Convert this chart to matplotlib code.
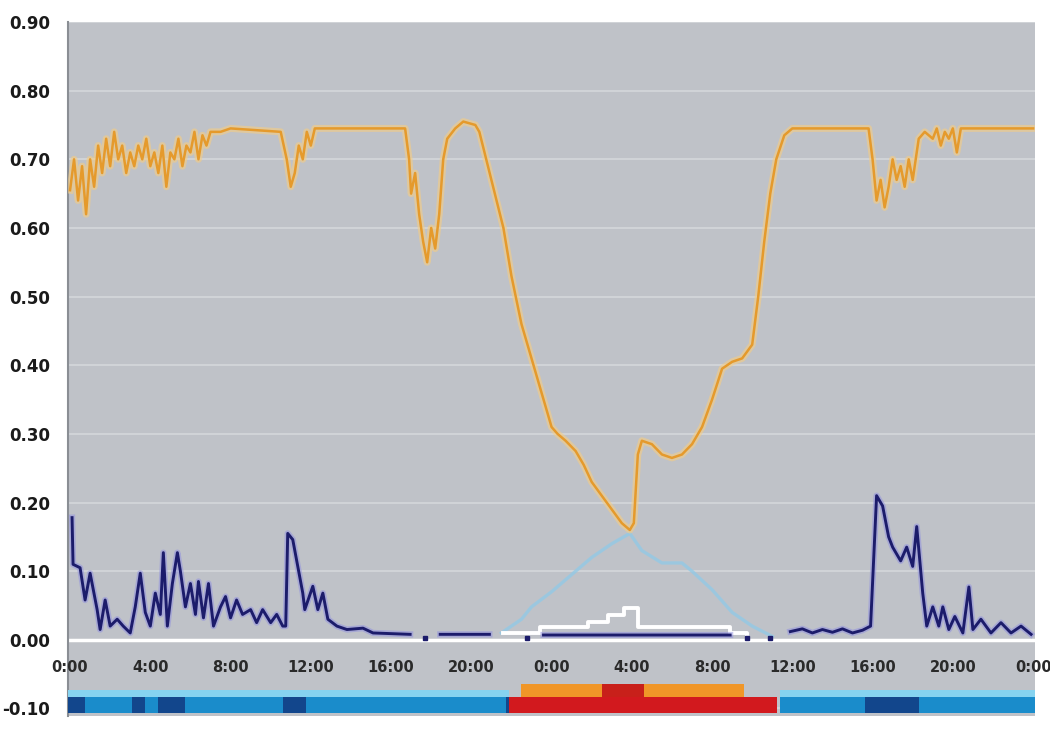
import matplotlib
matplotlib.use('Agg')
import matplotlib.pyplot as plt
import numpy as np

nan = float('nan')

# hours since midnight of day 1 (two days shown)
orange_h = [0.0, 0.2, 0.4, 0.6, 0.8, 1.0, 1.2, 1.4, 1.6, 1.8, 2.0, 2.2, 2.4, 2.6, 2.8,
            3.0, 3.2, 3.4, 3.6, 3.8, 4.0, 4.2, 4.4, 4.6, 4.8, 5.0, 5.2, 5.4, 5.6, 5.8,
            6.0, 6.2, 6.4, 6.6, 6.8, 7.0, 7.5, 8.0, 10.5, 10.8, 11.0, 11.2, 11.4, 11.6,
            11.8, 12.0, 12.2, 16.7, 16.9, 17.0, 17.2, 17.4, 17.6, 17.8, 18.0, 18.2,
            18.4, 18.6, 18.8, 19.2, 19.6, 20.2, 20.4, 21.0, 21.6, 22.0, 22.5, 23.0,
            23.5, 24.0, 24.3, 24.7, 25.2, 25.6, 26.0, 26.5, 27.0, 27.5, 27.9, 28.1,
            28.3, 28.5, 29.0, 29.5, 30.0, 30.5, 31.0, 31.5, 32.0, 32.5, 33.0, 33.5,
            34.0, 34.3, 34.6, 34.9, 35.2, 35.6, 36.0, 39.8, 40.0, 40.2, 40.4, 40.6,
            40.8, 41.0, 41.2, 41.4, 41.6, 41.8, 42.0, 42.3, 42.6, 43.0, 43.2, 43.4,
            43.6, 43.8, 44.0, 44.2, 44.4, 48.0]
orange_v = [0.655, 0.70, 0.64, 0.69, 0.62, 0.70, 0.66, 0.72, 0.68, 0.73, 0.69, 0.74,
            0.70, 0.72, 0.68, 0.71, 0.69, 0.72, 0.70, 0.73, 0.69, 0.71, 0.68, 0.72,
            0.66, 0.71, 0.70, 0.73, 0.69, 0.72, 0.71, 0.74, 0.70, 0.735, 0.72, 0.74,
            0.74, 0.745, 0.74, 0.70, 0.66, 0.68, 0.72, 0.70, 0.74, 0.72, 0.745, 0.745,
            0.70, 0.65, 0.68, 0.62, 0.58, 0.55, 0.60, 0.57, 0.62, 0.70, 0.73, 0.745,
            0.755, 0.75, 0.74, 0.67, 0.60, 0.53, 0.46, 0.41, 0.36, 0.31, 0.30, 0.29,
            0.275, 0.255, 0.23, 0.21, 0.19, 0.17, 0.16, 0.17, 0.27, 0.29, 0.285, 0.27,
            0.265, 0.27, 0.285, 0.31, 0.35, 0.395, 0.405, 0.41, 0.43, 0.50, 0.58, 0.65,
            0.70, 0.735, 0.745, 0.745, 0.70, 0.64, 0.67, 0.63, 0.66, 0.70, 0.67, 0.69,
            0.66, 0.70, 0.67, 0.73, 0.74, 0.73, 0.745, 0.72, 0.74, 0.73, 0.745, 0.71,
            0.745, 0.745]

navy_h = [0.1, 0.15, 0.5, 0.75, 1.0, 1.35, 1.5, 1.75, 2.0, 2.35, 2.65, 3.0, 3.25, 3.5,
          3.75, 4.0, 4.25, 4.5, 4.65, 4.85, 5.1, 5.35, 5.5, 5.75, 6.0, 6.25, 6.4, 6.65,
          6.9, 7.15, 7.5, 7.75, 8.0, 8.3, 8.6, 9.0, 9.3, 9.6, 10.0, 10.3, 10.6, 10.75,
          10.85, 11.1, 11.35, 11.6, 11.7, 12.1, 12.35, 12.6, 12.85, 13.3, 13.8, 14.6,
          15.1, 16.95, 17.3, 18.45, 20.9, 21.5, 23.6, 32.9, 33.3, 35.9, 36.5, 37.0,
          37.5, 38.0, 38.5, 39.0, 39.5, 39.9, 40.2, 40.5, 40.8, 41.0, 41.4, 41.7, 42.0,
          42.2, 42.5, 42.7, 43.0, 43.3, 43.5, 43.8, 44.1, 44.5, 44.8, 45.0, 45.4, 45.9,
          46.4, 46.9, 47.4, 47.9]
navy_v = [0.178, 0.11, 0.105, 0.058, 0.097, 0.044, 0.015, 0.058, 0.02, 0.03, 0.02,
          0.01, 0.048, 0.097, 0.04, 0.02, 0.068, 0.037, 0.127, 0.02, 0.082, 0.127, 0.10,
          0.048, 0.082, 0.037, 0.085, 0.032, 0.082, 0.02, 0.048, 0.063, 0.032, 0.058,
          0.037, 0.044, 0.025, 0.044, 0.025, 0.037, 0.02, 0.02, 0.155, 0.146, 0.107,
          0.068, 0.044, 0.078, 0.044, 0.068, 0.03, 0.02, 0.015, 0.017, 0.01, 0.008, nan,
          0.008, 0.008, nan, 0.007, 0.007, nan, 0.012, 0.016, 0.01, 0.015, 0.011, 0.016,
          0.01, 0.014, 0.02, 0.21, 0.195, 0.15, 0.135, 0.115, 0.135, 0.107, 0.165, 0.068,
          0.02, 0.048, 0.02, 0.048, 0.015, 0.034, 0.01, 0.077, 0.015, 0.03, 0.01, 0.025,
          0.01, 0.02, 0.008]

dot_h = [17.7, 22.8, 33.75, 34.9]
dot_v = [0.003, 0.003, 0.003, 0.003]

light_h = [21.5, 22.5, 23.0, 24.0, 25.0, 26.0, 27.0, 27.9, 28.5, 29.5, 30.5, 31.0,
           32.0, 33.0, 34.0, 35.0]
light_v = [0.01, 0.03, 0.048, 0.07, 0.095, 0.12, 0.14, 0.155, 0.13, 0.112, 0.112,
           0.10, 0.073, 0.04, 0.02, 0.005]

white_h = [21.6, 23.4, 25.8, 26.8, 27.6, 28.3, 32.9, 33.75]
white_v = [0.01, 0.018, 0.026, 0.036, 0.046, 0.018, 0.01, 0.0]

# activity strip below the chart: (start hour, length)
blue_spans = [(-0.2, 22.1), (35.4, 12.75)]
dark_spans = [(-0.2, 0.95), (3.1, 0.65), (4.4, 1.35), (10.6, 1.15), (21.75, 0.2), (39.6, 2.7)]
red_spans = [(21.9, 13.35)]
orange_spans = [(22.5, 11.1)]
darkred_spans = [(26.5, 2.1)]

x_ticks = [0, 4, 8, 12, 16, 20, 24, 28, 32, 36, 40, 44, 48]
x_labels = ['0:00', '4:00', '8:00', '12:00', '16:00', '20:00', '0:00', '4:00',
            '8:00', '12:00', '16:00', '20:00', '0:00']
y_ticks = [-0.1, 0.0, 0.1, 0.2, 0.3, 0.4, 0.5, 0.6, 0.7, 0.8, 0.9]

fig = plt.figure(figsize=(10.5, 7.29), dpi=100)
ax = fig.add_axes([0.0648, 0.0178, 0.921, 0.952])
ax.set_facecolor('#BFC2C8')
ax.set_xlim(-0.1, 48.1)
ax.set_ylim(-0.111, 0.90)

ax.set_yticks(y_ticks)
ax.set_yticklabels(['%.2f' % v for v in y_ticks], fontsize=12, fontweight='bold',
                   color='#1A1A1A')
ax.tick_params(axis='y', length=0, pad=13)
ax.set_xticks([])
ax.grid(axis='y', color='#D2D5D9', linewidth=1.3)
ax.set_axisbelow(True)
for s in ['top', 'right', 'bottom']:
    ax.spines[s].set_visible(False)
ax.spines['left'].set_color('#8A8E94')
ax.spines['left'].set_linewidth(1.5)

# zero line
ax.axhline(0.0, color='white', linewidth=2.5, zorder=2)

# light blue hump
ax.plot(light_h, light_v, color='#93C9E6', linewidth=2.4, alpha=0.8, zorder=2)

# white step
ax.step(white_h, white_v, where='post', color='white', linewidth=2.8, zorder=3)

# navy line with soft halo
ax.plot(navy_h, navy_v, color='#8E8EE0', linewidth=4.5, alpha=0.5, zorder=4)
ax.plot(navy_h, navy_v, color='#1C1C6B', linewidth=2.1, zorder=5)
ax.plot(dot_h, dot_v, 's', color='#1C1C6B', markersize=3.5, zorder=5)

# orange line with soft halo
ax.plot(orange_h, orange_v, color='#F6CD82', linewidth=5, alpha=0.6, zorder=4)
ax.plot(orange_h, orange_v, color='#E59A2C', linewidth=1.8, zorder=5)

# x labels drawn inside the plot area
for h, lab in zip(x_ticks, x_labels):
    ax.text(h, -0.041, lab, ha='center', va='center', fontsize=10.5,
            fontweight='semibold', color='#2A2A2A')

# activity strip
ax.broken_barh(blue_spans, (-0.085, 0.012), facecolors='#86D3F0', zorder=3)
ax.broken_barh(blue_spans, (-0.106, 0.023), facecolors='#1A8CCB', zorder=4)
ax.broken_barh(dark_spans, (-0.106, 0.023), facecolors='#12468C', zorder=5)
ax.broken_barh(orange_spans, (-0.085, 0.021), facecolors='#F09628', zorder=3)
ax.broken_barh(darkred_spans, (-0.083, 0.019), facecolors='#C8201A', zorder=4)
ax.broken_barh(red_spans, (-0.106, 0.023), facecolors='#D2191E', zorder=5)

fig.savefig('out.png', dpi=100, facecolor='white')
